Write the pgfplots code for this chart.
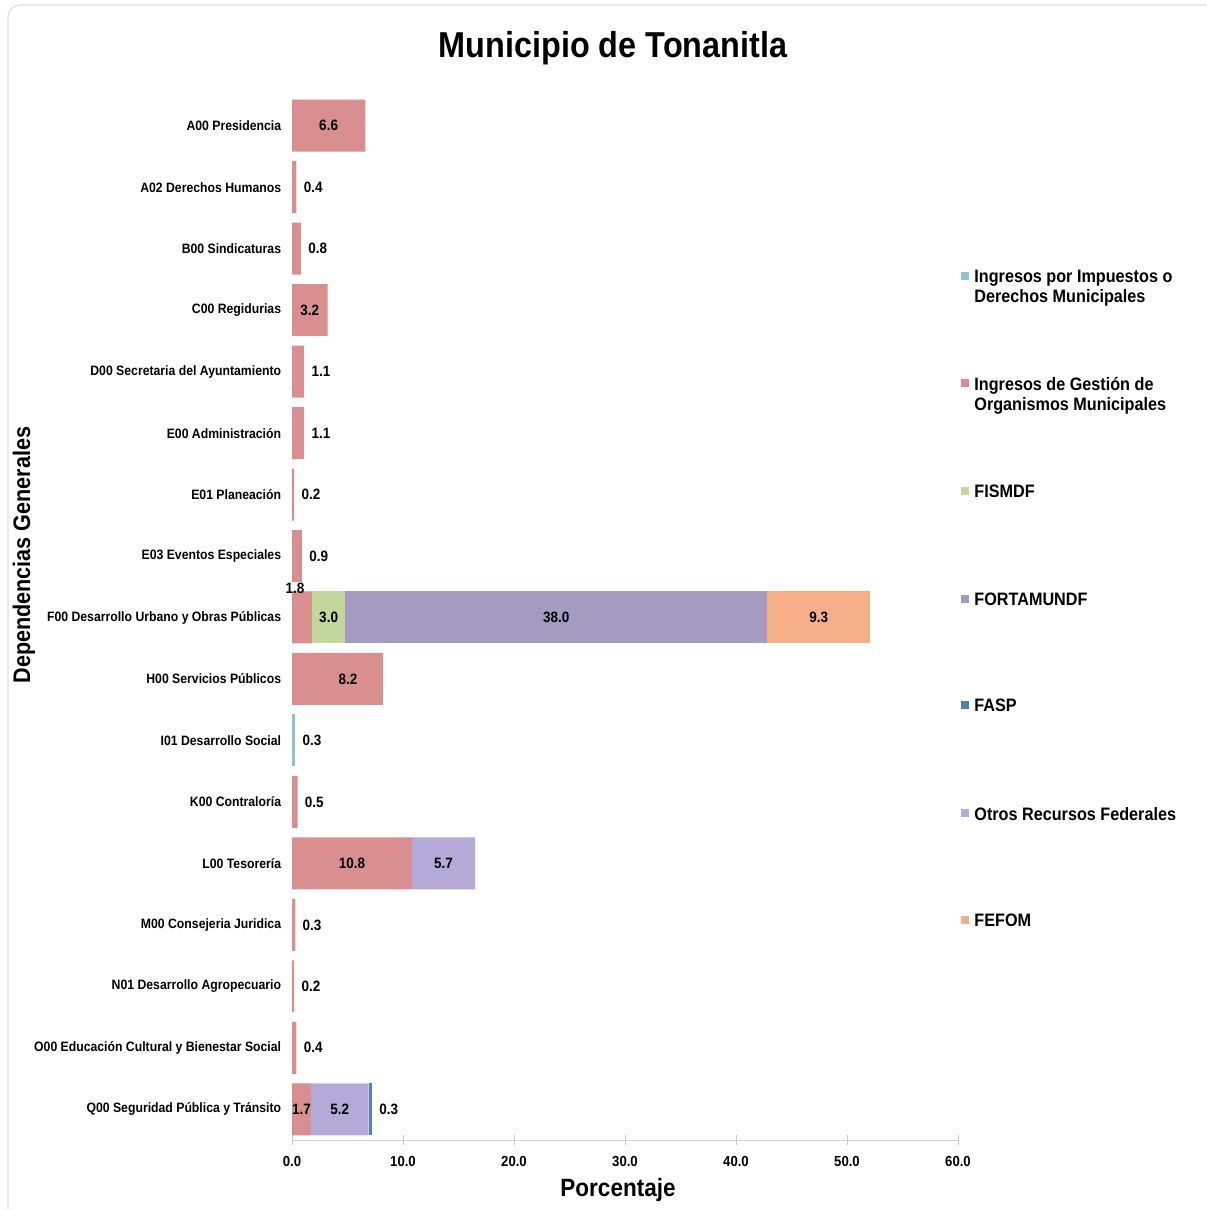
\documentclass[border=0pt]{standalone}
\usepackage{pgfplots}
\pgfplotsset{compat=1.18}
\usepackage{pgfplotstable}
\usepackage{fontspec}
\setmainfont{Liberation Sans}[FakeStretch=0.9]

\definecolor{cImp}{HTML}{8EC3D1}
\definecolor{cGes}{HTML}{D98E8F}
\definecolor{cFis}{HTML}{C3D69B}
\definecolor{cFort}{HTML}{A39BC0}
\definecolor{cFasp}{HTML}{4F81BD}
\definecolor{cOtr}{HTML}{B3AAD8}
\definecolor{cFef}{HTML}{F4AF88}

% y: 0 = Q00 (bottom) ... 16 = A00 (top)
\pgfplotstableread{
y imp ges fis fort otr fasp fef
0 0 1.7 0 0 5.2 0.3 0
1 0 0.4 0 0 0 0 0
2 0 0.2 0 0 0 0 0
3 0 0.3 0 0 0 0 0
4 0 10.8 0 0 5.7 0 0
5 0 0.5 0 0 0 0 0
6 0.3 0 0 0 0 0 0
7 0 8.2 0 0 0 0 0
8 0 1.8 3.0 38.0 0 0 9.3
9 0 0.9 0 0 0 0 0
10 0 0.2 0 0 0 0 0
11 0 1.1 0 0 0 0 0
12 0 1.1 0 0 0 0 0
13 0 3.2 0 0 0 0 0
14 0 0.8 0 0 0 0 0
15 0 0.4 0 0 0 0 0
16 0 6.6 0 0 0 0 0
}\datatable

\pgfplotstableread{
x y lab
3.3 16 6.6
1.6 13 3.2
0.27 8.47 1.8
3.3 8 3.0
23.8 8 38.0
47.45 8 9.3
5.05 7 8.2
5.4 4 10.8
13.65 4 5.7
0.85 0 1.7
4.3 0 5.2
}\labin

\pgfplotstableread{
x y lab
0.4 15 0.4
0.8 14 0.8
1.1 12 1.1
1.1 11 1.1
0.2 10 0.2
0.9 9 0.9
0.3 6 0.3
0.5 5 0.5
0.3 3 0.3
0.2 2 0.2
0.4 1 0.4
7.2 0 0.3
}\labout

\newcommand\legsq[2]{\fill[#1] (480.5pt,{#2pt-2pt}) rectangle ++(4pt,4pt);}
\newcommand\legtx[2]{\node[anchor=north west, inner sep=0pt, align=left, font=\bfseries\fontsize{9}{10}\selectfont] at (487pt,#1pt) {#2};}

\begin{document}
\begin{tikzpicture}
\useasboundingbox (0,0) rectangle (603pt,604.5pt);
\draw[gray!25, line width=0.6pt, rounded corners=6pt] (4pt,-8pt) rectangle (612pt,602pt);

\begin{axis}[
  at={(146pt,34.5pt)}, anchor=south west,
  scale only axis, width=333pt, height=522.5pt,
  xbar stacked, bar width=26pt,
  xmin=0, xmax=60, ymin=-0.5, ymax=16.5,
  ytick={0,...,16},
  yticklabels={Q00 Seguridad Pública y Tránsito, O00 Educación Cultural y Bienestar Social, N01 Desarrollo Agropecuario, M00 Consejeria Juridica, L00 Tesorería, K00 Contraloría, I01 Desarrollo Social, H00 Servicios Públicos, F00 Desarrollo Urbano y Obras Públicas, E03 Eventos Especiales, E01 Planeación, E00 Administración, D00 Secretaria del Ayuntamiento, C00 Regidurias, B00 Sindicaturas, A02 Derechos Humanos, A00 Presidencia},
  xtick={0,10,...,60},
  /pgf/number format/assume math mode=true,
  xticklabel style={/pgf/number format/fixed, /pgf/number format/fixed zerofill, /pgf/number format/precision=1, font=\bfseries\fontsize{7.3}{8}\selectfont, inner sep=0pt, yshift=-5.5pt},
  yticklabel style={font=\bfseries\fontsize{6.8}{8}\selectfont, inner sep=0pt, xshift=-3pt},
  axis x line*=bottom, axis y line*=left,
  x axis line style={draw=gray!35},
  y axis line style={draw=none},
  ytick style={draw=none},
  xtick style={draw=gray!45},
  tick align=center, major tick length=4.5pt,
  title={Municipio de Tonanitla},
  title style={at={(axis description cs:0.482,1.0334)}, anchor=center, yshift=0pt, font=\bfseries\fontsize{18}{20}\selectfont},
  xlabel={Porcentaje},
  xlabel style={at={(axis description cs:0.4895,-0.0478)}, anchor=center, font=\bfseries\fontsize{12.5}{14}\selectfont},
  ylabel={Dependencias Generales},
  ylabel style={at={(axis description cs:-0.4024,0.5598)}, anchor=center, font=\bfseries\fontsize{12}{14}\selectfont},
]
\addplot[fill=cImp, draw=none] table[x=imp, y=y]{\datatable};
\addplot[fill=cGes, draw=none] table[x=ges, y=y]{\datatable};
\addplot[fill=cFis, draw=none] table[x=fis, y=y]{\datatable};
\addplot[fill=cFort, draw=none] table[x=fort, y=y]{\datatable};
\addplot[fill=cOtr, draw=none] table[x=otr, y=y]{\datatable};
\addplot[fill=cFasp, draw=none] table[x=fasp, y=y]{\datatable};
\addplot[fill=cFef, draw=none] table[x=fef, y=y]{\datatable};
\end{axis}

\begin{axis}[
  at={(146pt,34.5pt)}, anchor=south west,
  scale only axis, width=333pt, height=522.5pt,
  xmin=0, xmax=60, ymin=-0.5, ymax=16.5,
  hide axis, clip=false,
]
\addplot[draw=none, mark=none, nodes near coords, point meta=explicit symbolic,
  every node near coord/.append style={anchor=center, inner sep=0pt, font=\bfseries\fontsize{7.5}{9}\selectfont}]
  table[x=x, y=y, meta=lab]{\labin};
\addplot[draw=none, mark=none, nodes near coords, point meta=explicit symbolic,
  every node near coord/.append style={anchor=west, inner sep=0pt, xshift=3.5pt, font=\bfseries\fontsize{7.5}{9}\selectfont}]
  table[x=x, y=y, meta=lab]{\labout};
\end{axis}

\legsq{cImp}{466.5}  \legtx{469.5}{Ingresos por Impuestos o\\Derechos Municipales}
\legsq{cGes}{413}    \legtx{416}{Ingresos de Gestión de\\Organismos Municipales}
\legsq{cFis}{359}    \legtx{362}{FISMDF}
\legsq{cFort}{305}   \legtx{308}{FORTAMUNDF}
\legsq{cFasp}{252}   \legtx{255}{FASP}
\legsq{cOtr}{198}    \legtx{201}{Otros Recursos Federales}
\legsq{cFef}{144.5}  \legtx{147.5}{FEFOM}
\end{tikzpicture}
\end{document}
